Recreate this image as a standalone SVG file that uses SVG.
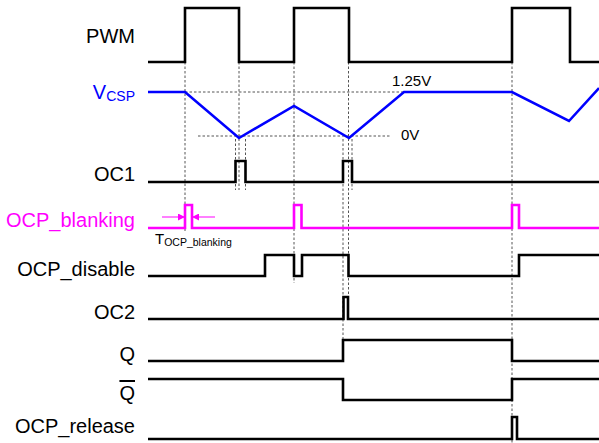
<svg xmlns="http://www.w3.org/2000/svg" width="599" height="443" viewBox="0 0 599 443">
<style>
.lbl{font-family:"Liberation Sans",Arial,sans-serif;font-size:20px;text-anchor:end;fill:#000}
.sig{fill:none;stroke:#000;stroke-width:2.6;stroke-linejoin:miter}
.blue{stroke:#0000ff}
.mag{stroke:#ff00ff}
.dot{fill:none;stroke:#555;stroke-width:1;stroke-dasharray:2.5,2}
.small{font-family:"Liberation Sans",Arial,sans-serif;font-size:15px;fill:#000}
</style>
<defs>
<marker id="ah" viewBox="0 0 10 10" refX="10" refY="5" markerWidth="8" markerHeight="7" markerUnits="userSpaceOnUse" orient="auto">
<path d="M0,0 L10,5 L0,10 z" fill="#ff00ff"/>
</marker>
</defs>
<rect width="599" height="443" fill="#fff"/>
<g id="connectors">
<line class="dot" x1="185" y1="62" x2="185" y2="232"/>
<line class="dot" x1="239" y1="62" x2="239" y2="190"/>
<line class="dot" x1="235.5" y1="139" x2="235.5" y2="190"/>
<line class="dot" x1="245.5" y1="139" x2="245.5" y2="190"/>
<line class="dot" x1="294" y1="62" x2="294" y2="283"/>
<line class="dot" x1="343" y1="139" x2="343" y2="340"/>
<line class="dot" x1="348.5" y1="62" x2="348.5" y2="297"/>
<line class="dot" x1="352" y1="139" x2="352" y2="190"/>
<line class="dot" x1="512" y1="62" x2="512" y2="443"/>
<line class="dot" x1="185" y1="92" x2="404" y2="92"/>
<line class="dot" x1="198" y1="136" x2="391" y2="136"/>
<line x1="162" y1="217" x2="185" y2="217" stroke="#ff00ff" stroke-width="1" marker-end="url(#ah)"/>
<line x1="215" y1="217" x2="192" y2="217" stroke="#ff00ff" stroke-width="1" marker-end="url(#ah)"/>
</g>
<g id="PWM">
<text class="lbl" x="135" y="43">PWM</text>
<polyline class="sig" points="148,62 185,62 185,8 239,8 239,62 294,62 294,8 349,8 349,62 512,62 512,8 570,8 570,62 599,62"/>
</g>
<g id="VCSP">
<text class="lbl" x="135" y="99" style="fill:#0000ff">V<tspan font-size="14" dy="2">CSP</tspan></text>
<polyline class="sig blue" points="148,92 185,92 239,138 294,106 349,138 404,92 512,92 569,121 599,88"/>
<text class="small" x="392" y="86">1.25V</text>
<text class="small" x="401" y="140">0V</text>
</g>
<g id="OC1">
<text class="lbl" x="135" y="181">OC1</text>
<polyline class="sig" points="148,182 235.5,182 235.5,161 245.5,161 245.5,182 343,182 343,161 352,161 352,182 599,182"/>
</g>
<g id="OCP_blanking">
<text class="lbl" x="135" y="227" style="fill:#ff00ff">OCP_blanking</text>
<polyline class="sig mag" points="148,228 185,228 185,205 192,205 192,228 294,228 294,205 301.5,205 301.5,228 512,228 512,205 519,205 519,228 599,228"/>
<text x="155" y="244" font-family="'Liberation Sans',Arial,sans-serif" font-size="15" fill="#000">T<tspan font-size="10.5" dy="1.5">OCP_blanking</tspan></text>
</g>
<g id="OCP_disable">
<text class="lbl" x="135" y="276">OCP_disable</text>
<polyline class="sig" points="148,276 265,276 265,255 294,255 294,276 302,276 302,255 348.5,255 348.5,276 519,276 519,255 599,255"/>
</g>
<g id="OC2">
<text class="lbl" x="135" y="319">OC2</text>
<polyline class="sig" points="148,319 343.5,319 343.5,297 348,297 348,319 599,319"/>
</g>
<g id="Q">
<text class="lbl" x="135" y="361">Q</text>
<polyline class="sig" points="148,361 343,361 343,340 512,340 512,361 599,361"/>
</g>
<g id="Qbar">
<text class="lbl" x="135" y="400" style="text-decoration:overline">Q</text>
<polyline class="sig" points="148,379 343,379 343,400 512,400 512,379 599,379"/>
</g>
<g id="OCP_release">
<text class="lbl" x="135" y="433">OCP_release</text>
<polyline class="sig" points="148,439 512,439 512,417 517,417 517,439 599,439"/>
</g>
</svg>
